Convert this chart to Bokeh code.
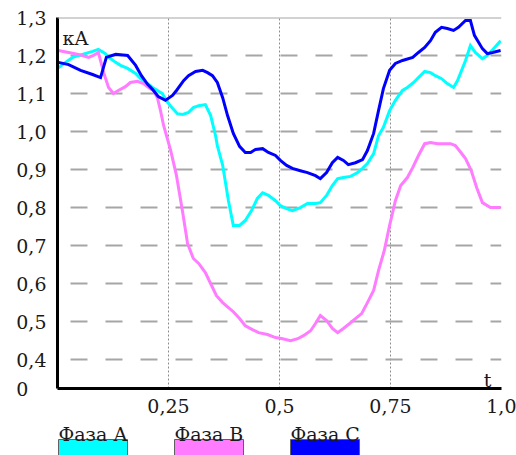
from bokeh.plotting import figure
from bokeh.models import FixedTicker, Range1d, Span
from bokeh.layouts import column
from bokeh.core.properties import value
from bokeh.embed import file_html
from bokeh.resources import INLINE

# ---- data ----
t_a = [0.002, 0.018, 0.034, 0.056, 0.079, 0.092, 0.108, 0.119, 0.131, 0.142, 0.158, 0.176, 0.187, 0.203,
       0.214, 0.225, 0.236, 0.245, 0.254, 0.270, 0.282, 0.295, 0.306, 0.318, 0.333, 0.345, 0.356, 0.360,
       0.372, 0.385, 0.396, 0.410, 0.423, 0.437, 0.450, 0.462, 0.475, 0.491, 0.502, 0.516, 0.529, 0.547,
       0.563, 0.581, 0.592, 0.606, 0.619, 0.631, 0.644, 0.660, 0.676, 0.687, 0.698, 0.712, 0.723, 0.734,
       0.748, 0.761, 0.777, 0.788, 0.802, 0.813, 0.827, 0.840, 0.851, 0.865, 0.878, 0.892, 0.901, 0.919,
       0.930, 0.941, 0.957, 0.968, 0.982, 0.998]
v_a = [1.168, 1.182, 1.195, 1.203, 1.211, 1.216, 1.205, 1.192, 1.182, 1.174, 1.166, 1.153, 1.139, 1.126,
       1.116, 1.108, 1.100, 1.082, 1.068, 1.047, 1.045, 1.050, 1.063, 1.068, 1.071, 1.042, 0.989, 0.963,
       0.911, 0.818, 0.753, 0.753, 0.766, 0.792, 0.824, 0.839, 0.832, 0.818, 0.805, 0.797, 0.792, 0.800,
       0.811, 0.811, 0.813, 0.832, 0.858, 0.876, 0.879, 0.882, 0.892, 0.903, 0.916, 0.942, 0.989, 1.011,
       1.055, 1.082, 1.108, 1.116, 1.129, 1.142, 1.158, 1.155, 1.147, 1.139, 1.126, 1.116, 1.134, 1.187,
       1.226, 1.208, 1.192, 1.200, 1.218, 1.239]

t_b = [0.002, 0.025, 0.047, 0.070, 0.081, 0.092, 0.104, 0.115, 0.126, 0.137, 0.153, 0.164, 0.180, 0.194,
       0.205, 0.216, 0.225, 0.232, 0.239, 0.255, 0.268, 0.282, 0.293, 0.306, 0.318, 0.333, 0.347, 0.358,
       0.372, 0.385, 0.396, 0.410, 0.423, 0.439, 0.453, 0.473, 0.491, 0.507, 0.525, 0.541, 0.554, 0.570,
       0.581, 0.592, 0.606, 0.619, 0.631, 0.644, 0.658, 0.671, 0.685, 0.698, 0.712, 0.723, 0.736, 0.748,
       0.761, 0.773, 0.788, 0.800, 0.813, 0.827, 0.840, 0.856, 0.869, 0.885, 0.896, 0.905, 0.919, 0.932,
       0.944, 0.957, 0.975, 0.998]
v_b = [1.213, 1.208, 1.203, 1.195, 1.200, 1.208, 1.155, 1.116, 1.100, 1.108, 1.118, 1.129, 1.132, 1.126,
       1.116, 1.108, 1.089, 1.055, 1.016, 0.950, 0.884, 0.787, 0.705, 0.666, 0.653, 0.629, 0.595, 0.568,
       0.550, 0.537, 0.526, 0.508, 0.489, 0.479, 0.471, 0.466, 0.458, 0.455, 0.450, 0.455, 0.463, 0.476,
       0.495, 0.516, 0.503, 0.482, 0.471, 0.482, 0.495, 0.508, 0.521, 0.550, 0.582, 0.634, 0.687, 0.753,
       0.818, 0.858, 0.879, 0.905, 0.937, 0.968, 0.971, 0.968, 0.968, 0.968, 0.963, 0.950, 0.929, 0.897,
       0.853, 0.813, 0.800, 0.800]

t_c = [0.002, 0.025, 0.052, 0.079, 0.097, 0.110, 0.131, 0.158, 0.176, 0.189, 0.203, 0.214, 0.227, 0.243,
       0.259, 0.268, 0.284, 0.295, 0.311, 0.327, 0.338, 0.349, 0.360, 0.372, 0.383, 0.396, 0.410, 0.423,
       0.435, 0.446, 0.462, 0.475, 0.491, 0.502, 0.516, 0.529, 0.547, 0.563, 0.581, 0.592, 0.606, 0.619,
       0.631, 0.644, 0.655, 0.671, 0.687, 0.698, 0.712, 0.723, 0.734, 0.748, 0.761, 0.777, 0.800, 0.813,
       0.827, 0.840, 0.851, 0.865, 0.878, 0.892, 0.903, 0.919, 0.930, 0.939, 0.957, 0.968, 0.980, 0.998]
v_c = [1.182, 1.176, 1.161, 1.150, 1.142, 1.195, 1.203, 1.200, 1.174, 1.147, 1.124, 1.111, 1.092, 1.082,
       1.095, 1.108, 1.134, 1.147, 1.158, 1.161, 1.155, 1.147, 1.129, 1.089, 1.042, 0.995, 0.961, 0.945,
       0.945, 0.953, 0.955, 0.945, 0.937, 0.924, 0.911, 0.903, 0.897, 0.892, 0.884, 0.876, 0.892, 0.918,
       0.932, 0.924, 0.913, 0.918, 0.926, 0.950, 0.995, 1.055, 1.113, 1.161, 1.179, 1.187, 1.195, 1.208,
       1.221, 1.239, 1.261, 1.274, 1.271, 1.266, 1.274, 1.292, 1.292, 1.253, 1.218, 1.205, 1.208, 1.213]

series_names = ["Фаза А", "Фаза В", "Фаза С"]
series_colors = ["#00ffff", "#ff7bff", "#0000ff"]

y_min = 0.324
y_ticks = [y_min, 0.4, 0.5, 0.6, 0.7, 0.8, 0.9, 1.0, 1.1, 1.2, 1.3]
y_labels = ["0\u2008\u2007", "0,4", "0,5", "0,6", "0,7", "0,8", "0,9", "1,0", "1,1", "1,2", "1,3"]
x_ticks = [0.25, 0.5, 0.75, 1.0]
x_labels = ["0,25", "0,5", "0,75", "1,0"]
grid_y = [0.4, 0.5, 0.6, 0.7, 0.8, 0.9, 1.0, 1.1, 1.2]

FONT = "DejaVu Serif"
FSIZE = "19px"

p = figure(width=516, height=420, output_backend="svg", toolbar_location=None,
           x_range=Range1d(0, 1.0), y_range=Range1d(y_min, 1.3),
           min_border_left=57, min_border_right=15, min_border_top=17, min_border_bottom=32)
p.background_fill_color = "white"
p.border_fill_color = "white"
p.outline_line_color = None

# grids
p.ygrid.ticker = FixedTicker(ticks=grid_y)
p.ygrid.grid_line_color = "#a6a6a6"
p.ygrid.grid_line_width = 2
p.ygrid.grid_line_dash = "17 18"
p.ygrid.grid_line_dash_offset = 22
p.xgrid.ticker = FixedTicker(ticks=x_ticks)
p.xgrid.grid_line_color = "#8c8c8c"
p.xgrid.grid_line_width = 1
p.xgrid.grid_line_dash = "2 2"
p.add_layout(Span(location=1.3, dimension="width", line_color="#a6a6a6", line_width=2))

# axes
for ax in (p.xaxis[0], p.yaxis[0]):
    ax.axis_line_color = "black"
    ax.axis_line_width = 3
    ax.major_tick_line_color = None
    ax.minor_tick_line_color = None
    ax.major_label_text_font = FONT
    ax.major_label_text_font_size = FSIZE
    ax.major_label_text_color = "#1a1a1a"
p.yaxis.ticker = FixedTicker(ticks=y_ticks)
p.yaxis.major_label_overrides = {k: v for k, v in zip(y_ticks, y_labels)}
p.yaxis.major_label_standoff = 5
p.xaxis.ticker = FixedTicker(ticks=x_ticks)
p.xaxis.major_label_overrides = {k: v for k, v in zip(x_ticks, x_labels)}
p.xaxis.major_label_standoff = 4

# series
for tt, vv, col in zip([t_a, t_b, t_c], [v_a, v_b, v_c], series_colors):
    p.line(tt, vv, line_color=col, line_width=3, line_join="miter")

# unit labels
p.text(x=[0.011], y=[1.245], text=["кА"], text_font=value(FONT), text_font_size=FSIZE,
       text_color="#1a1a1a", text_baseline="alphabetic")
p.text(x=[0.960], y=[0.346], text=["t"], text_font=value(FONT), text_font_size=FSIZE,
       text_color="#1a1a1a", text_baseline="alphabetic")

# legend strip (frame aligned with the chart frame; x in page pixels)
lg = figure(width=516, height=35, output_backend="svg", toolbar_location=None,
            x_axis_location=None, y_axis_location=None,
            x_range=Range1d(57, 501), y_range=Range1d(35, 0),
            min_border_left=57, min_border_right=15, min_border_top=0, min_border_bottom=0)
lg.grid.visible = False
lg.outline_line_color = None
lg.background_fill_color = "white"
lg.border_fill_color = "white"
leg_left = [58, 174, 290]
lg.quad(left=leg_left, right=[v + 69 for v in leg_left], top=[19] * 3, bottom=[37] * 3,
        fill_color=series_colors, line_color="#606060", line_width=1)
lg.text(x=leg_left, y=[13] * 3, text=series_names, text_font=value(FONT), text_font_size=FSIZE,
        text_color="#1a1a1a", text_baseline="alphabetic")

layout = column(p, lg, spacing=0)
open("out.html", "w").write(file_html(layout, INLINE))
